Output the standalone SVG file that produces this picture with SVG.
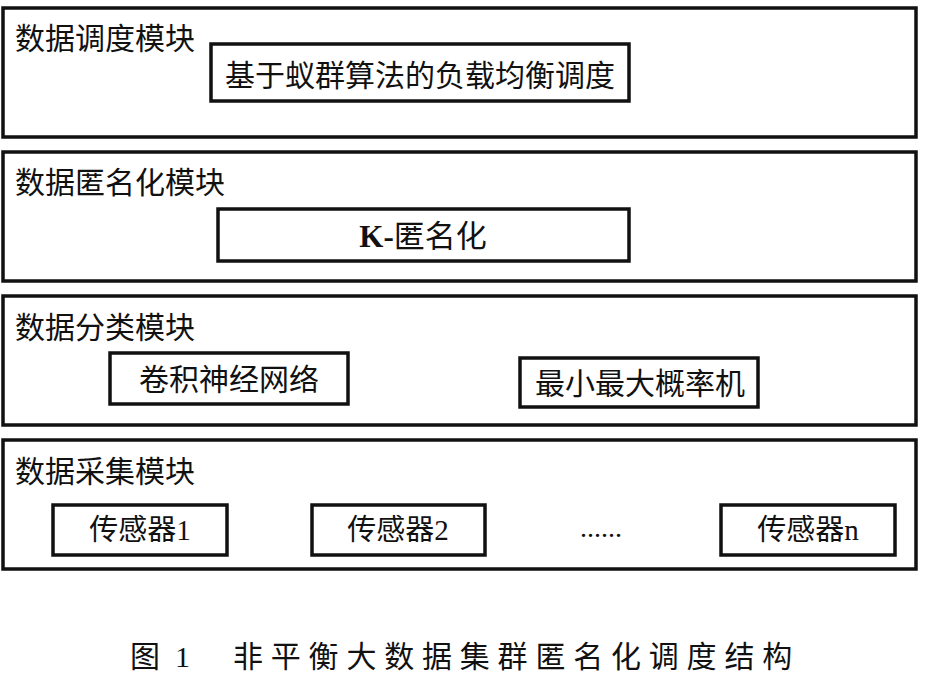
<svg xmlns="http://www.w3.org/2000/svg" width="925" height="689" viewBox="0 0 925 689">
<style>
.mod{fill:#fff;stroke:#111;stroke-width:3.5}
.box{fill:#fff;stroke:#111;stroke-width:3.5}
text{font-family:"Liberation Serif","Noto Sans CJK SC",serif;fill:#111}
.lbl{font-size:30px}
.in{font-size:29px;text-anchor:middle;dominant-baseline:central}
.cap{font-size:30px}
</style>
<rect width="925" height="689" fill="#fff"/>
<g id="m-schedule">
<rect class="mod" x="3" y="8" width="913" height="129"/>
<text class="lbl" x="15" y="49">数据调度模块</text>
<g id="n-aco">
<rect class="box" x="211" y="44" width="418" height="57"/>
<text class="in" x="420" y="75" style="font-size:30px">基于蚁群算法的负载均衡调度</text>
</g>
</g>
<g id="m-anon">
<rect class="mod" x="3" y="152" width="913" height="129"/>
<text class="lbl" x="15" y="193">数据匿名化模块</text>
<g id="n-k">
<rect class="box" x="218" y="209" width="411" height="52"/>
<text class="in" x="423" y="236" style="font-size:31px"><tspan font-weight="bold">K-</tspan>匿名化</text>
</g>
</g>
<g id="m-class">
<rect class="mod" x="3" y="296" width="913" height="129"/>
<text class="lbl" x="15" y="338">数据分类模块</text>
<g id="n-cnn">
<rect class="box" x="110" y="353" width="238" height="51"/>
<text class="in" x="229" y="379" style="font-size:30px">卷积神经网络</text>
</g>
<g id="n-mpm">
<rect class="box" x="520" y="358" width="238" height="49"/>
<text class="in" x="640" y="383" style="font-size:30px">最小最大概率机</text>
</g>
</g>
<g id="m-collect">
<rect class="mod" x="3" y="440" width="913" height="129"/>
<text class="lbl" x="15" y="482">数据采集模块</text>
<g id="n-s1">
<rect class="box" x="53" y="505" width="174" height="50"/>
<text class="in" x="140" y="530">传感器1</text>
</g>
<g id="n-s2">
<rect class="box" x="312" y="505" width="173" height="50"/>
<text class="in" x="398" y="530">传感器2</text>
</g>
<text class="in" x="601" y="527" style="font-size:28px">......</text>
<g id="n-sn">
<rect class="box" x="721" y="505" width="174" height="50"/>
<text class="in" x="808" y="530">传感器n</text>
</g>
</g>
<g id="connectors"></g>
<g id="caption">
<text class="cap" x="130" y="667">图</text>
<text class="cap" x="175" y="667">1</text>
<text class="cap" x="233" y="667" letter-spacing="7.8">非平衡大数据集群匿名化调度结构</text>
</g>
</svg>
